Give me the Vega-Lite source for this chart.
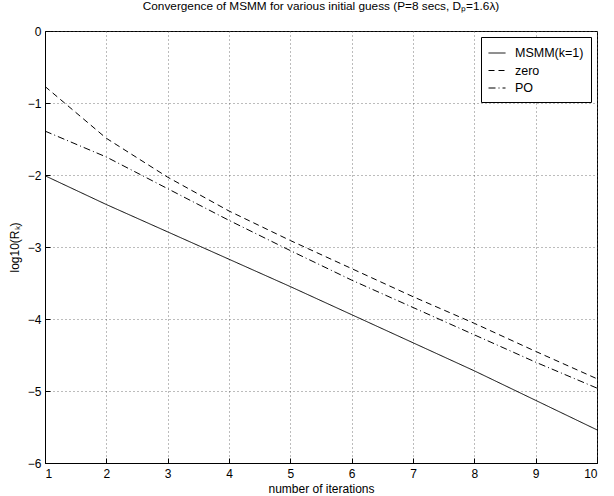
{
  "$schema": "https://vega.github.io/schema/vega-lite/v6.json",
  "width": 552,
  "height": 432,
  "autosize": "none",
  "padding": {"left": 45, "top": 31, "right": 17, "bottom": 33},
  "background": "white",
  "title": {
    "text": "Convergence of MSMM for various initial guess (P=8 secs, Dₚ=1.6λ)",
    "font": "Liberation Sans",
    "fontSize": 11.8,
    "fontWeight": "normal",
    "color": "black",
    "anchor": "middle",
    "offset": 12
  },
  "config": {
    "view": {"stroke": "black", "strokeWidth": 1},
    "axis": {
      "labelFont": "Liberation Sans",
      "titleFont": "Liberation Sans",
      "labelFontSize": 12,
      "titleFontSize": 12,
      "titleFontWeight": "normal",
      "labelColor": "black",
      "titleColor": "black",
      "domainColor": "black",
      "tickColor": "black",
      "grid": true,
      "gridColor": "#555555",
      "gridDash": [1, 3],
      "gridWidth": 0.8,
      "tickSize": -5
    }
  },
  "data": {
    "values": [
      {"iter": 1, "series": "MSMM(k=1)", "value": -2.01},
      {"iter": 2, "series": "MSMM(k=1)", "value": -2.41},
      {"iter": 3, "series": "MSMM(k=1)", "value": -2.79},
      {"iter": 4, "series": "MSMM(k=1)", "value": -3.17},
      {"iter": 5, "series": "MSMM(k=1)", "value": -3.55},
      {"iter": 6, "series": "MSMM(k=1)", "value": -3.94},
      {"iter": 7, "series": "MSMM(k=1)", "value": -4.33},
      {"iter": 8, "series": "MSMM(k=1)", "value": -4.72},
      {"iter": 9, "series": "MSMM(k=1)", "value": -5.13},
      {"iter": 10, "series": "MSMM(k=1)", "value": -5.54},
      {"iter": 1, "series": "zero", "value": -0.77},
      {"iter": 2, "series": "zero", "value": -1.49},
      {"iter": 3, "series": "zero", "value": -2.03},
      {"iter": 4, "series": "zero", "value": -2.5},
      {"iter": 5, "series": "zero", "value": -2.91},
      {"iter": 6, "series": "zero", "value": -3.3},
      {"iter": 7, "series": "zero", "value": -3.69},
      {"iter": 8, "series": "zero", "value": -4.06},
      {"iter": 9, "series": "zero", "value": -4.45},
      {"iter": 10, "series": "zero", "value": -4.83},
      {"iter": 1, "series": "PO", "value": -1.39},
      {"iter": 2, "series": "PO", "value": -1.75},
      {"iter": 3, "series": "PO", "value": -2.19},
      {"iter": 4, "series": "PO", "value": -2.63},
      {"iter": 5, "series": "PO", "value": -3.05},
      {"iter": 6, "series": "PO", "value": -3.46},
      {"iter": 7, "series": "PO", "value": -3.84},
      {"iter": 8, "series": "PO", "value": -4.22},
      {"iter": 9, "series": "PO", "value": -4.6},
      {"iter": 10, "series": "PO", "value": -4.96}
    ]
  },
  "mark": {"type": "line", "color": "black", "strokeWidth": 1},
  "encoding": {
    "x": {
      "field": "iter",
      "type": "quantitative",
      "scale": {"domain": [1, 10], "nice": false, "zero": false},
      "axis": {"values": [1, 2, 3, 4, 5, 6, 7, 8, 9, 10], "format": "d", "title": "number of iterations", "labelPadding": 10, "titlePadding": 4}
    },
    "y": {
      "field": "value",
      "type": "quantitative",
      "scale": {"domain": [-6, 0], "nice": false, "zero": false},
      "axis": {"values": [-6, -5, -4, -3, -2, -1, 0], "format": "d", "title": "log10(Rₖ)", "labelPadding": 9, "titlePadding": 6}
    },
    "strokeDash": {
      "field": "series",
      "type": "nominal",
      "scale": {"domain": ["MSMM(k=1)", "zero", "PO"], "range": [[1, 0], [6, 4], [7, 3, 1, 3]]},
      "legend": {
        "title": null,
        "orient": "top-right",
        "offset": 6,
        "strokeColor": "black",
        "fillColor": "white",
        "padding": 7,
        "symbolType": "stroke",
        "symbolSize": 289,
        "symbolStrokeColor": "black",
        "symbolStrokeWidth": 1,
        "labelFont": "Liberation Sans",
        "labelFontSize": 12.5,
        "labelColor": "black",
        "labelOffset": 9,
        "rowPadding": 1.5
      }
    }
  }
}
